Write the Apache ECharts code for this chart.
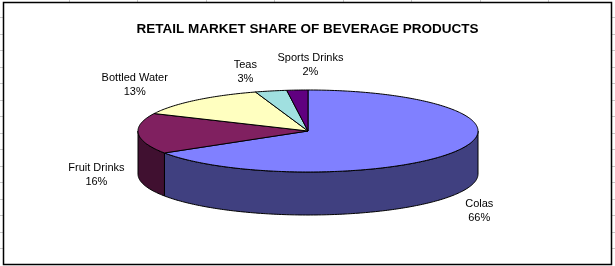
<!DOCTYPE html>
<html>
<head>
<meta charset="utf-8">
<script src="https://cdn.jsdelivr.net/npm/echarts@6/dist/echarts.min.js"></script>
<style>
html,body{margin:0;padding:0;background:#fff;}
#chart{width:615px;height:266px;}
</style>
</head>
<body>
<div id="chart"></div>
<script>
// ---- data ----
const categories = ['Colas', 'Fruit Drinks', 'Bottled Water', 'Teas', 'Sports Drinks'];
const shares = [66, 16, 13, 3, 2];
const titleText = 'RETAIL MARKET SHARE OF BEVERAGE PRODUCTS';

// ---- styling / layout ----
const topColors = ['#8080FF', '#802060', '#FFFFC0', '#A0E0E0', '#600080'];
const sideColors = ['#404080', '#401030', '#808060', '#507070', '#300040'];
const L = { cx: 308, cy: 131, rx: 170, ry: 41, depth: 43, gx: 30, gy: 22 };
const labelNudge = [[-4, 7], [-12, -3], [-41, 1], [-19, 2.5], [15, -3]];

const total = shares.reduce((a, b) => a + b, 0);
const starts = [];
shares.reduce((acc, v, i) => { starts[i] = acc; return acc + v; }, 0);
const seriesData = shares.map((v, i) => ({ name: categories[i], value: [starts[i], v] }));

function ang(f) { return Math.PI / 2 - 2 * Math.PI * f; }
function arcPts(f0, f1, dy) {
  const pts = [];
  const n = Math.max(2, Math.ceil((f1 - f0) * 400));
  for (let k = 0; k <= n; k++) {
    const a = ang(f0 + (f1 - f0) * k / n);
    pts.push([L.cx + L.rx * Math.cos(a), L.cy - L.ry * Math.sin(a) + dy]);
  }
  return pts;
}

function renderSide(params, api) {
  const f0 = api.value(0) / total, f1 = (api.value(0) + api.value(1)) / total;
  const a = Math.max(f0, 0.25), b = Math.min(f1, 0.75);
  if (a >= b) return { type: 'group', children: [] };
  const pts = arcPts(a, b, 0).concat(arcPts(a, b, L.depth).reverse());
  return {
    type: 'polygon',
    shape: { points: pts },
    style: { fill: sideColors[params.dataIndex], stroke: '#000', lineWidth: 1 }
  };
}

function renderTop(params, api) {
  const i = params.dataIndex;
  const v0 = api.value(0), v = api.value(1);
  const f0 = v0 / total, f1 = (v0 + v) / total;
  const pts = [[L.cx, L.cy]].concat(arcPts(f0, f1, 0));
  const m = ang((f0 + f1) / 2);
  const s = Math.sin(m), c = Math.cos(m);
  const lx = L.cx + (L.rx + L.gx) * c + labelNudge[i][0];
  const ly = L.cy - (L.ry + L.gy) * s + (s < 0 ? L.depth : 0) + labelNudge[i][1];
  return {
    type: 'group',
    children: [
      { type: 'polygon', shape: { points: pts },
        style: { fill: topColors[i], stroke: '#000', lineWidth: 1 } },
      { type: 'text', x: lx, y: ly,
        style: { text: categories[i] + '\n' + Math.round(v / total * 100) + '%',
          align: 'center', verticalAlign: 'middle', lineHeight: 14,
          font: '11px "Liberation Sans", Arial, sans-serif', fill: '#000' } }
    ]
  };
}

// Spreadsheet grid remnants around the chart frame
const deco = [];
for (let k = 1; k <= 8; k++) {
  const x = Math.round(68.5 * k) + 0.5;
  deco.push({ type: 'line', shape: { x1: x, y1: 0, x2: x, y2: 2 }, style: { stroke: '#C8C8C8', lineWidth: 1 } });
}
for (let k = 1; k <= 15; k++) {
  const y = Math.round(0.8 + 16.5 * k) + 0.5;
  deco.push({ type: 'line', shape: { x1: 0, y1: y, x2: 3, y2: y }, style: { stroke: '#C8C8C8', lineWidth: 1 } });
  deco.push({ type: 'line', shape: { x1: 612, y1: y, x2: 615, y2: y }, style: { stroke: '#C8C8C8', lineWidth: 1 } });
}
deco.push({ type: 'rect', shape: { x: 3.5, y: 2.5, width: 608, height: 262 },
  style: { fill: 'none', stroke: '#000', lineWidth: 1.5 }, z: 10 });

const chart = echarts.init(document.getElementById('chart'), null, { renderer: 'canvas' });
chart.setOption({
  animation: false,
  backgroundColor: '#fff',
  title: {
    text: titleText, left: 'center', top: 17,
    textStyle: { fontSize: 13.5, fontWeight: 'bold', color: '#000', fontFamily: '"Liberation Sans", Arial, sans-serif' }
  },
  graphic: deco,
  series: [
    { type: 'custom', name: 'sides', coordinateSystem: 'none', silent: true,
      renderItem: renderSide, data: seriesData, z: 1 },
    { type: 'custom', name: 'tops', coordinateSystem: 'none', silent: true,
      renderItem: renderTop, data: seriesData, z: 2 }
  ]
});
</script>
</body>
</html>
